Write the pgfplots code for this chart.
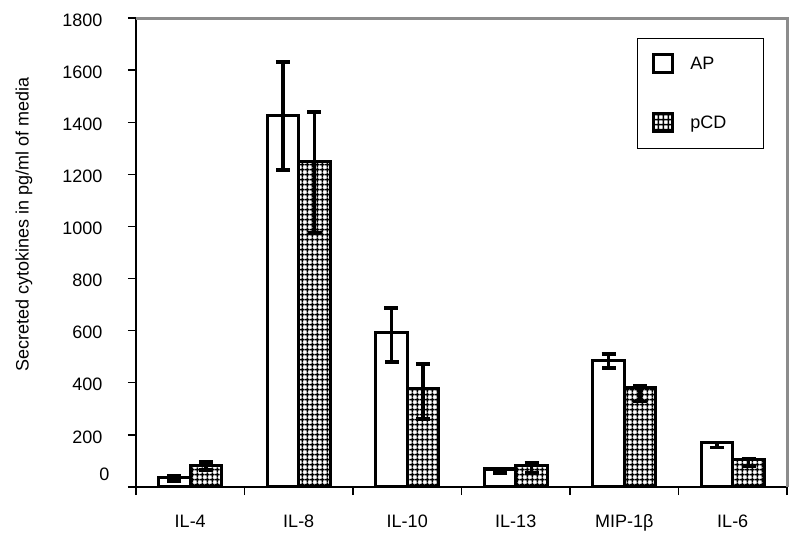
\documentclass[border=0pt]{standalone}
\usepackage{pgfplots}
\pgfplotsset{compat=1.18}
\usepackage{fontspec}
\setmainfont{Liberation Sans}
\usetikzlibrary{patterns}

\definecolor{framegray}{HTML}{8C8C8C}

% fine square grid used for the pCD bars
\pgfdeclarepatternformonly{cellgrid}{\pgfpointorigin}{\pgfpoint{5.3pt}{5.3pt}}{\pgfpoint{5.3pt}{5.3pt}}{%
  \pgfsetlinewidth{1.6pt}%
  \pgfpathmoveto{\pgfpoint{0pt}{2.65pt}}\pgfpathlineto{\pgfpoint{5.3pt}{2.65pt}}%
  \pgfpathmoveto{\pgfpoint{2.65pt}{0pt}}\pgfpathlineto{\pgfpoint{2.65pt}{5.3pt}}%
  \pgfusepath{stroke}}

\pgfplotsset{
  errstyle/.style={
    error bars/.cd,
      y dir=both, y explicit,
      error bar style={line width=3.8pt, black},
      error mark options={rotate=90, line width=3.8pt, mark size=7pt, black},
  },
}

\begin{document}
\begin{tikzpicture}
\path[use as bounding box] (-136pt,-52pt) rectangle (664pt,487pt);
\begin{axis}[
    at={(0,0)}, anchor=south west,
    scale only axis,
    width=651pt, height=469pt,
    xmin=-0.5, xmax=5.5,
    ymin=0, ymax=1800,
    ybar=0pt, bar width=31.5pt,
    axis x line*=bottom, axis y line*=left,
    axis line style={-, line width=1.3pt, black},
    tick align=outside,
    major tick length=8pt, minor tick length=8pt,
    tick style={line width=1.3pt, black},
    major x tick style={draw=none},
    xtick={0,...,5},
    minor xtick={-0.5,0.5,...,5.5},
    xticklabels={IL-4,IL-8,IL-10,IL-13,MIP-1β,IL-6},
    ytick={0,200,...,1800},
    yticklabels={\raisebox{8.6pt}[0pt][0pt]{0}\hspace*{-7pt},200,400,600,800,1000,1200,1400,1600,1800},
    ticklabel style={font=\fontsize{18}{21}\selectfont},
    xticklabel style={anchor=base, yshift=-32pt},
    yticklabel style={anchor=east, xshift=-22pt, yshift=-2pt},
    ylabel={Secreted cytokines in pg/ml of media},
    ylabel style={at={(axis description cs:-0.172,0.559)}, anchor=center,
      font=\fontsize{18}{21}\selectfont},
    legend image code/.code={\draw[#1, line width=3pt] (0pt,-9pt) rectangle (19pt,9pt);},
    legend style={at={(0.7696,0.9574)}, anchor=north west,
      draw=black, line width=0.8pt, fill=white,
      font=\fontsize{18}{21}\selectfont,
      inner xsep=15pt, inner ysep=15pt, row sep=38pt,
      column sep=14pt},
    legend cell align=left,
]
\addplot[draw=black, line width=3.2pt, fill=white, errstyle]
coordinates {
(0,38) += (0,3) -= (0,14)
(1,1425) += (0,207) -= (0,208)
(2,594) += (0,94) -= (0,113)
(3,69) += (0,1) -= (0,14)
(4,484) += (0,27) -= (0,27)
(5,170) += (0,1) -= (0,18)
};
\addlegendentry{\makebox[56pt][l]{AP}}

\addplot[draw=black, line width=3.2pt, fill=white, pattern=cellgrid, pattern color=black, errstyle]
coordinates {
(0,81) += (0,15) -= (0,16)
(1,1248) += (0,192) -= (0,273)
(2,379) += (0,92) -= (0,119)
(3,81) += (0,10) -= (0,26)
(4,381) += (0,6) -= (0,53)
(5,107) += (0,1) -= (0,26)
};
\addlegendentry{\makebox[56pt][l]{pCD}}
\end{axis}
\draw[framegray, line width=3pt] (current axis.north west) -- (current axis.north east) -- (current axis.south east);
\end{tikzpicture}
\end{document}
